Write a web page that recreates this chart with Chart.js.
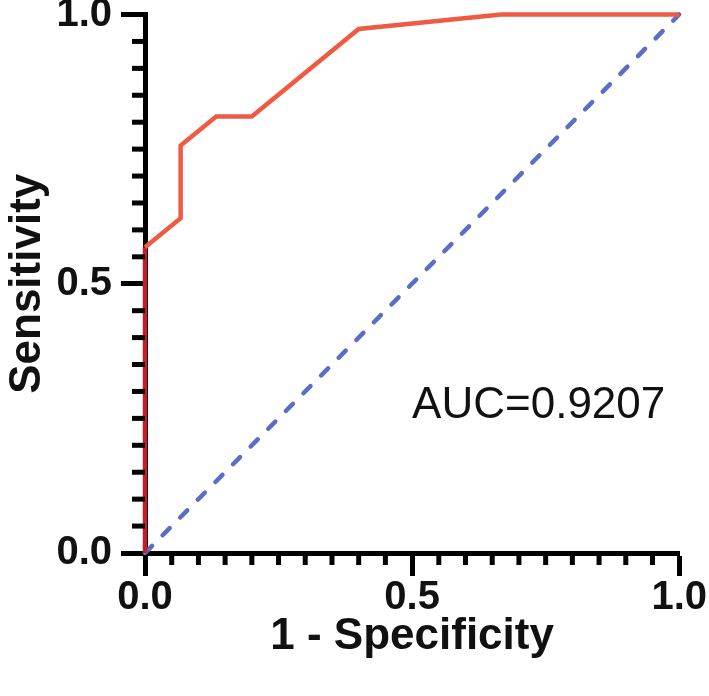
<!DOCTYPE html>
<html>
<head>
<meta charset="utf-8">
<script src="https://cdn.jsdelivr.net/npm/chart.js@4"></script>
<style>
  html, body { margin: 0; padding: 0; background: #ffffff; }
  #wrap { width: 709px; height: 696px; }
</style>
</head>
<body>
<div id="wrap"><canvas id="rocChart" width="709" height="696"></canvas></div>
<script>
// ROC curve values
const specComplement = [0, 0, 0.0667, 0.0667, 0.1333, 0.2, 0.4, 0.6667, 1];
const sensitivity = [0, 0.5676, 0.6216, 0.7568, 0.8108, 0.8108, 0.973, 1, 1];
// chance line
const chanceX = [0, 1];
const chanceY = [0, 1];
// axis ticks
const majorTicks = [0, 0.5, 1];
const minorTicks = [0.05, 0.1, 0.15, 0.2, 0.25, 0.3, 0.35, 0.4, 0.45, 0.55, 0.6, 0.65, 0.7, 0.75, 0.8, 0.85, 0.9, 0.95];
const aucText = 'AUC=0.9207';
const aucPos = [0.5, 0.25];

const FONT = '"Liberation Sans", Arial, Helvetica, sans-serif';

// minor ticks and the AUC label
const extrasPlugin = {
    id: 'extras',
    afterDraw(chart) {
        const ctx = chart.ctx;
        const xs = chart.scales.x;
        const ys = chart.scales.y;
        const area = chart.chartArea;
        ctx.save();
        ctx.strokeStyle = '#000000';
        ctx.lineWidth = 5;
        minorTicks.forEach(v => {
            const px = xs.getPixelForValue(v);
            ctx.beginPath();
            ctx.moveTo(px, area.bottom);
            ctx.lineTo(px, area.bottom + 12);
            ctx.stroke();
            const py = ys.getPixelForValue(v);
            ctx.beginPath();
            ctx.moveTo(area.left, py);
            ctx.lineTo(area.left - 13, py);
            ctx.stroke();
        });
        ctx.fillStyle = '#111111';
        ctx.font = '44px ' + FONT;
        ctx.textAlign = 'left';
        ctx.textBaseline = 'alphabetic';
        ctx.fillText(aucText, xs.getPixelForValue(aucPos[0]), ys.getPixelForValue(aucPos[1]));
        ctx.restore();
    }
};

const toPoints = (xArr, yArr) => xArr.map((x, i) => ({ x: x, y: yArr[i] }));

new Chart(document.getElementById('rocChart').getContext('2d'), {
    type: 'scatter',
    data: {
        datasets: [
            {
                label: 'Chance',
                data: toPoints(chanceX, chanceY),
                showLine: true,
                borderColor: '#5a6ec4',
                borderWidth: 4.5,
                borderDash: [10, 15],
                borderCapStyle: 'round',
                pointRadius: 0,
                clip: false,
                order: 2
            },
            {
                label: 'ROC',
                data: toPoints(specComplement, sensitivity),
                showLine: true,
                borderColor: '#ee5b42',
                borderWidth: 4.5,
                pointRadius: 0,
                tension: 0,
                clip: false,
                order: 1,
                segment: {
                    borderColor: c => (c.p0.parsed.x === 0 && c.p1.parsed.x === 0) ? '#c0202a' : '#ee5b42'
                }
            }
        ]
    },
    options: {
        responsive: false,
        animation: false,
        events: [],
        layout: { padding: { left: 0, top: 14.5, right: 26.5, bottom: 0 } },
        plugins: {
            legend: { display: false },
            tooltip: { enabled: false }
        },
        scales: {
            x: {
                type: 'linear',
                min: 0,
                max: 1,
                afterFit: s => { s.height = 143; },
                afterBuildTicks: s => { s.ticks = majorTicks.map(v => ({ value: v })); },
                ticks: {
                    color: '#111111',
                    padding: 2,
                    font: { family: FONT, size: 40, weight: 'bold', lineHeight: 1 },
                    callback: v => Number(v).toFixed(1)
                },
                grid: {
                    drawOnChartArea: false,
                    drawTicks: true,
                    tickLength: 23,
                    tickWidth: 5,
                    tickColor: '#000000'
                },
                border: { display: true, color: '#000000', width: 5 },
                title: {
                    display: true,
                    text: '1 - Specificity',
                    color: '#111111',
                    font: { family: FONT, size: 44, weight: 'bold', lineHeight: 1.2 },
                    padding: { top: 0, bottom: 33 }
                }
            },
            y: {
                type: 'linear',
                min: 0,
                max: 1,
                afterFit: s => {
                    s.width = 145;
                    s.paddingTop = 0;
                    s.paddingBottom = 0;
                },
                afterBuildTicks: s => { s.ticks = majorTicks.map(v => ({ value: v })); },
                ticks: {
                    color: '#111111',
                    padding: 9,
                    font: { family: FONT, size: 40, weight: 'bold', lineHeight: 1 },
                    callback: v => Number(v).toFixed(1)
                },
                grid: {
                    drawOnChartArea: false,
                    drawTicks: true,
                    tickLength: 24,
                    tickWidth: 5,
                    tickColor: '#000000'
                },
                border: { display: true, color: '#000000', width: 5 },
                title: {
                    display: true,
                    text: 'Sensitivity',
                    color: '#111111',
                    font: { family: FONT, size: 44, weight: 'bold', lineHeight: 1.2 },
                    padding: { top: 1, bottom: 0 }
                }
            }
        }
    },
    plugins: [extrasPlugin]
});
</script>
</body>
</html>
